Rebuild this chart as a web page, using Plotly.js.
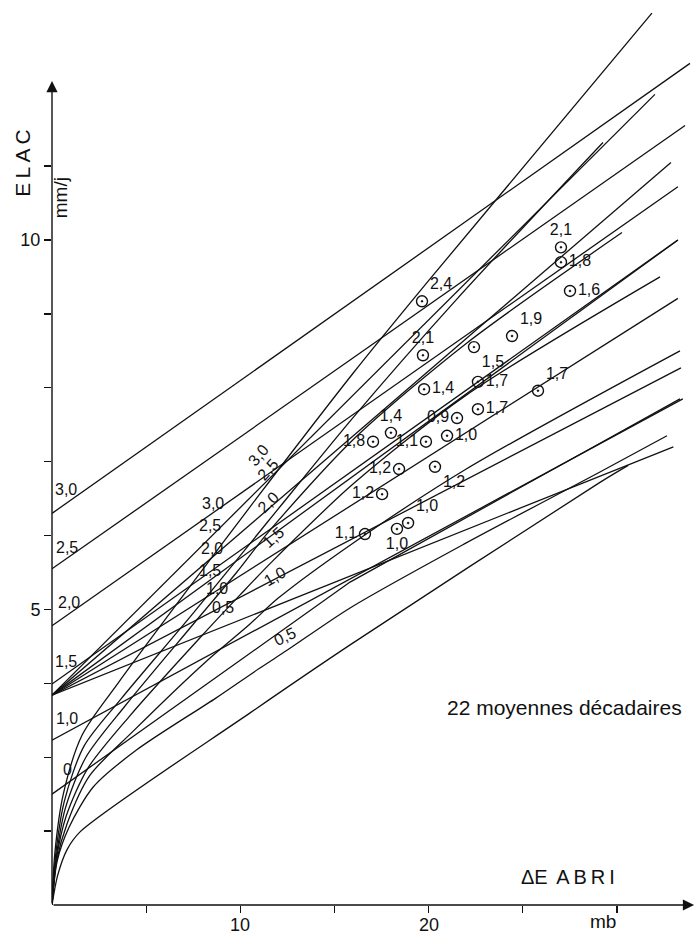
<!DOCTYPE html>
<html><head><meta charset="utf-8">
<script src="https://cdn.plot.ly/plotly-3.0.1.min.js"></script>
<style>html,body{margin:0;padding:0;background:#fff}#chart{width:699px;height:935px}</style>
</head><body><div id="chart"></div>
<script>
// ---- straight lines starting on the ELAC axis (family A) ----
const lineA30X = [0, 33.88], lineA30Y = [6.30, 12.39];
const lineA25X = [0, 33.62], lineA25Y = [5.55, 11.55];
const lineA20X = [0, 33.24], lineA20Y = [4.78, 10.72];
const lineA15X = [0, 33.24], lineA15Y = [3.99, 10.00];
const lineA10X = [0, 33.50], lineA10Y = [3.23, 7.85];
const lineA00X = [0, 15.83, 33.35], lineA00Y = [2.50, 5.37, 7.85];
// ---- fan of lines from one point on the axis (family C) ----
const lineC30X = [0, 32.02], lineC30Y = [3.84, 11.97];
const lineC25X = [0, 32.87], lineC25Y = [3.84, 11.05];
const lineC20X = [0, 33.24], lineC20Y = [3.84, 10.00];
const lineC15X = [0, 33.24], lineC15Y = [3.84, 9.21];
const lineC10X = [0, 33.40], lineC10Y = [3.84, 8.27];
const lineC05X = [0, 33.00], lineC05Y = [3.84, 7.20];
// ---- curves from the origin (family B) ----
const curveB30X = [0, 0.15, 0.6, 1.6, 3.5, 7, 11, 16, 20, 31.86];
const curveB30Y = [1, 1.7, 2.5, 3.3, 4.0, 5.2, 6.55, 8.2, 9.45, 13.07];
const curveB25X = [0, 0.18, 0.65, 1.7, 3.7, 7.5, 11.5, 16, 21.5, 29.26];
const curveB25Y = [1, 1.65, 2.4, 3.15, 3.8, 4.95, 6.2, 7.6, 9.2, 11.32];
const curveB20X = [0, 0.2, 0.7, 1.8, 3.9, 7.5, 9.8, 11.5, 16, 22, 30.27];
const curveB20Y = [1, 1.6, 2.3, 3.0, 3.7, 4.8, 5.5, 6.05, 7.3, 8.6, 10.1];
const curveB15X = [0, 0.22, 0.75, 1.9, 4.1, 7.8, 10, 11.7, 16, 22, 32.29];
const curveB15Y = [1, 1.6, 2.2, 2.85, 3.55, 4.6, 5.2, 5.65, 6.7, 7.9, 9.5];
const curveB10X = [0, 0.25, 0.8, 2.0, 4.3, 8.2, 10.5, 12, 16, 22, 33.35];
const curveB10Y = [1, 1.6, 2.1, 2.75, 3.35, 4.3, 4.8, 5.15, 5.9, 6.9, 8.5];
const curveB05X = [0, 0.28, 0.9, 2.2, 4.5, 8.7, 11, 12.5, 15.83, 22, 29.1, 32.66];
const curveB05Y = [1, 1.6, 2.05, 2.6, 3.1, 3.8, 4.2, 4.45, 5.02, 5.9, 6.86, 7.35];
const curveD1X = [0, 0.3, 0.8, 1.49, 10.52, 15.83, 29.1, 30.6];
const curveD1Y = [1, 1.4, 1.75, 1.99, 3.6, 4.52, 6.72, 6.95];

// ---- 22 ten-day means ----
const pointX = [19.65, 19.70, 22.41, 24.43, 19.76, 22.62, 25.81, 22.62, 21.51, 20.98, 19.86,
                18.00, 17.05, 18.43, 20.34, 17.53, 16.62, 18.32, 18.91, 27.03, 27.03, 27.51];
const pointY = [9.17, 8.44, 8.55, 8.70, 7.98, 8.08, 7.96, 7.71, 7.59, 7.35, 7.27,
                7.39, 7.27, 6.90, 6.93, 6.56, 6.02, 6.09, 6.17, 9.90, 9.70, 9.31];
const pointLabel = ['2,4', '2,1', '1,5', '1,9', '1,4', '1,7', '1,7', '1,7', '0,9', '1,0', '1,1',
                    '1,4', '1,8', '1,2', '1,2', '1,2', '1,1', '1,0', '1,0', '2,1', '1,8', '1,6'];
const pointLabelPos = ['top right', 'top center', 'bottom right', 'top right', 'middle right', 'middle right',
                       'top right', 'middle right', 'middle left', 'middle right', 'middle left',
                       'top center', 'middle left', 'middle left', 'bottom right', 'middle left',
                       'middle left', 'bottom center', 'top right', 'top center', 'middle right', 'middle right'];

// ---- curve labels ----
const axisLabText = ['3,0', '2,5', '2,0', '1,5', '1,0', '0'];
const axisLabX = [0.05, 0.12, 0.2, 0.05, 0.1, 0.5];
const axisLabY = [6.62, 5.84, 5.09, 4.29, 3.53, 2.83];
const fanLabText = ['3,0', '2,5', '2,0', '1,5', '1,0', '0,5'];
const fanLabX = [8.55, 8.39, 8.50, 8.39, 8.76, 9.08];
const fanLabY = [6.44, 6.14, 5.82, 5.53, 5.29, 5.02];
const originLabText = ['3,0', '2,5', '2,0', '1,5', '1,0', '0,5'];
const originLabX = [10.94, 11.47, 11.47, 11.74, 11.84, 12.37];
const originLabY = [7.09, 6.89, 6.45, 5.98, 5.44, 4.63];
const originLabAngle = [-50, -48, -45, -42, -30, -25];

const xTickVals = [5, 10, 15, 20, 25, 30];
const xTickLabelVals = [10, 20];
const yTickVals = [2, 3, 4, 5, 6, 7, 8, 9, 10, 11];
const yTickText = ['', '', '', '5', '', '', '', '', '10', ''];

const FONT = 'Liberation Sans, Arial, sans-serif';
const straight = [[lineA30X, lineA30Y], [lineA25X, lineA25Y], [lineA20X, lineA20Y], [lineA15X, lineA15Y],
  [lineA10X, lineA10Y], [lineA00X, lineA00Y], [lineC30X, lineC30Y], [lineC25X, lineC25Y], [lineC20X, lineC20Y],
  [lineC15X, lineC15Y], [lineC10X, lineC10Y], [lineC05X, lineC05Y]];
const curved = [[curveB30X, curveB30Y], [curveB25X, curveB25Y], [curveB20X, curveB20Y], [curveB15X, curveB15Y],
  [curveB10X, curveB10Y], [curveB05X, curveB05Y], [curveD1X, curveD1Y]];

const traces = [];
straight.forEach(([x, y]) => traces.push({type: 'scatter', mode: 'lines', x, y,
  line: {color: '#111', width: 1.3}, hoverinfo: 'skip', showlegend: false}));
curved.forEach(([x, y]) => traces.push({type: 'scatter', mode: 'lines', x, y,
  line: {color: '#111', width: 1.3, shape: 'spline', smoothing: 0.8}, hoverinfo: 'skip', showlegend: false}));
traces.push({type: 'scatter', mode: 'markers+text', x: pointX, y: pointY, text: pointLabel,
  textposition: pointLabelPos, textfont: {family: FONT, size: 16, color: '#111'},
  marker: {symbol: 'circle-open-dot', size: 11, color: '#111', line: {width: 1.4, color: '#111'}},
  hoverinfo: 'skip', showlegend: false, cliponaxis: false});

const ann = [];
ann.push({x: 34.1, y: 1, ax: 0, ay: 1, xref: 'x', yref: 'y', axref: 'x', ayref: 'y', text: '',
  showarrow: true, arrowhead: 2, arrowsize: 1.6, arrowwidth: 1.4, arrowcolor: '#111'});
ann.push({x: 0, y: 12.15, ax: 0, ay: 1, xref: 'x', yref: 'y', axref: 'x', ayref: 'y', text: '',
  showarrow: true, arrowhead: 2, arrowsize: 1.6, arrowwidth: 1.4, arrowcolor: '#111'});
xTickLabelVals.forEach(v => ann.push({x: v, y: -0.009, xref: 'x', yref: 'paper', yanchor: 'top', text: String(v),
  showarrow: false, font: {family: FONT, size: 18, color: '#111'}}));
axisLabText.forEach((t, i) => ann.push({x: axisLabX[i], y: axisLabY[i], text: t, showarrow: false,
  xanchor: 'left', font: {family: FONT, size: 16, color: '#111'}}));
fanLabText.forEach((t, i) => ann.push({x: fanLabX[i], y: fanLabY[i], text: t, showarrow: false,
  font: {family: FONT, size: 16, color: '#111'}}));
originLabText.forEach((t, i) => ann.push({x: originLabX[i], y: originLabY[i], text: t, showarrow: false,
  textangle: originLabAngle[i], font: {family: FONT, size: 16, color: '#111'}}));
ann.push({x: 27.4, y: 1.38, text: '\u0394E\u2009 A\u2009B\u2009R\u2009I', showarrow: false,
  font: {family: FONT, size: 20, color: '#111'}});
ann.push({x: 29.26, y: -0.004, xref: 'x', yref: 'paper', text: 'mb', showarrow: false, yanchor: 'top',
  font: {family: FONT, size: 19, color: '#111'}});
ann.push({x: 27.2, y: 3.67, text: '22 moyennes décadaires', showarrow: false,
  font: {family: FONT, size: 21, color: '#111'}});
ann.push({x: -0.066, y: 0.864, xref: 'paper', yref: 'paper', text: 'E\u2009L\u2009A\u2009C', textangle: -90,
  showarrow: false, font: {family: FONT, size: 21, color: '#111'}});
ann.push({x: -0.006, y: 0.811, xref: 'paper', yref: 'paper', text: 'mm/j', textangle: -90, showarrow: false,
  font: {family: FONT, size: 19, color: '#111'}});

const layout = {
  width: 699, height: 935, margin: {l: 52, r: 0, t: 5, b: 30},
  paper_bgcolor: '#fff', plot_bgcolor: '#fff', showlegend: false,
  xaxis: {range: [0, 34.36], showgrid: false, zeroline: false, showline: false, ticks: 'outside',
    ticklen: 7, tickwidth: 1.3, tickcolor: '#111', tickvals: xTickVals, showticklabels: false,
    fixedrange: true},
  yaxis: {range: [1, 13.18], showgrid: false, zeroline: false, showline: false, ticks: 'outside',
    ticklen: 7, tickwidth: 1.3, tickcolor: '#111', tickvals: yTickVals, ticktext: yTickText,
    tickfont: {family: FONT, size: 18, color: '#111'}, fixedrange: true},
  annotations: ann
};
Plotly.newPlot('chart', traces, layout, {staticPlot: true, displayModeBar: false});
</script></body></html>
